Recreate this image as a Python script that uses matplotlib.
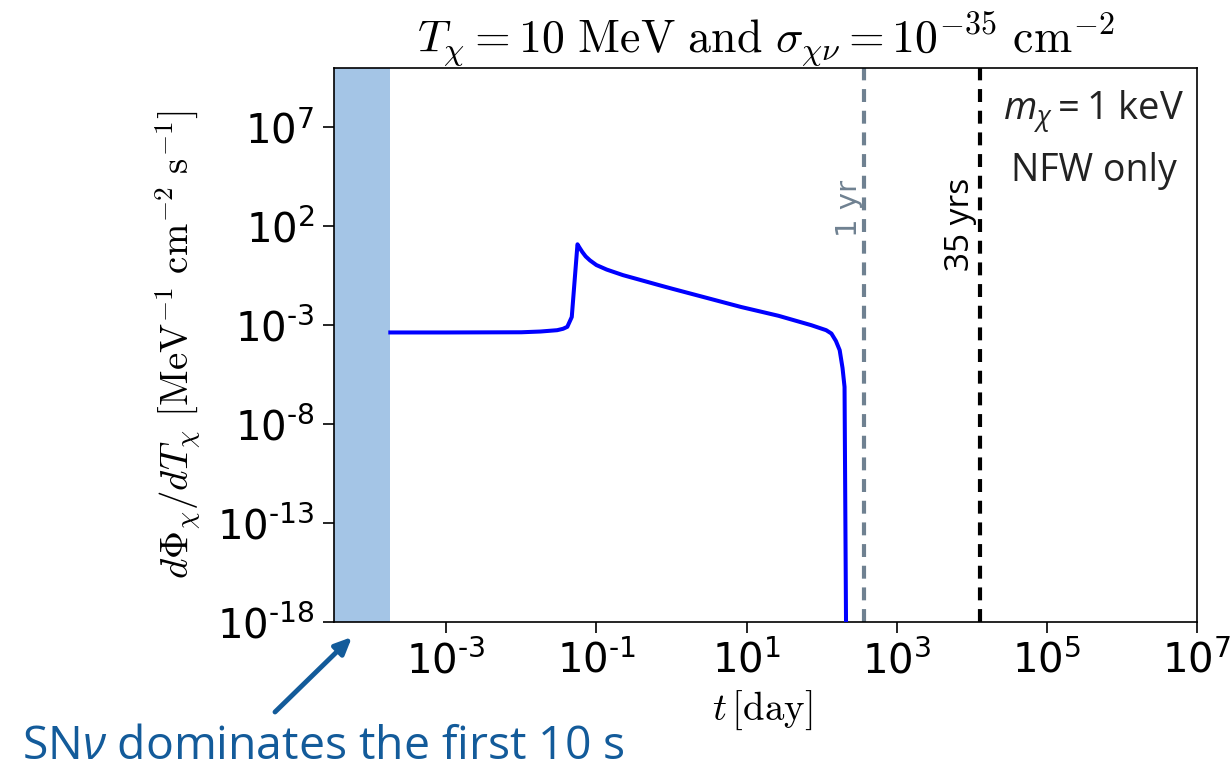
import numpy as np
import matplotlib
matplotlib.use("Agg")
import matplotlib.pyplot as plt
import matplotlib.transforms as mtransforms

plt.rcParams['mathtext.fontset'] = 'cm'
plt.rcParams['mathtext.rm'] = 'Open Sans'
plt.rcParams['mathtext.it'] = 'Open Sans:italic'
plt.rcParams['mathtext.bf'] = 'Open Sans:bold'
plt.rcParams['font.family'] = ['DejaVu Sans']

# ---- data ----
t_day = [1.8e-4, 1e-3, 1e-2, 1.8e-2, 3.0e-2, 3.6e-2, 4.1e-2, 4.7e-2, 5.6e-2,
         6.0e-2, 6.5e-2, 7.2e-2, 8.2e-2, 0.100, 0.137, 0.226, 0.69, 1.05, 8.5,
         26.6, 73, 115, 135, 155, 174, 190, 202, 213]
flux = [4.3e-4, 4.3e-4, 4.4e-4, 4.8e-4, 5.6e-4, 6.6e-4, 8.3e-4, 2.6e-3, 12.3,
        8.0, 5.0, 3.0, 1.9, 1.1, 0.65, 0.34, 0.105, 0.068, 8.3e-3,
        3.0e-3, 1.0e-3, 5.6e-4, 3.8e-4, 1.6e-4, 5.5e-5, 6.8e-6, 7.6e-7, 1e-20]

sn_end_day = 1.8e-4
one_yr_day = 365.0
yrs35_day = 35 * 365.25

xticks = [1e-3, 1e-1, 1e1, 1e3, 1e5, 1e7]
xticklabels = [r'$\mathregular{10^{\text{-}3}}$', r'$\mathregular{10^{\text{-}1}}$',
               r'$\mathregular{10^{1}}$', r'$\mathregular{10^{3}}$',
               r'$\mathregular{10^{5}}$', r'$\mathregular{10^{7}}$']
yticks = [1e7, 1e2, 1e-3, 1e-8, 1e-13, 1e-18]
yticklabels = [r'$\mathregular{10^{7}}$', r'$\mathregular{10^{2}}$',
               r'$\mathregular{10^{\text{-}3}}$', r'$\mathregular{10^{\text{-}8}}$',
               r'$\mathregular{10^{\text{-}13}}$', r'$\mathregular{10^{\text{-}18}}$']

W, H = 1232, 770
fig = plt.figure(figsize=(W / 100, H / 100), dpi=100)
ax = fig.add_axes([334 / W, 1 - 622 / H, (1197 - 334) / W, (622 - 68) / H])

xlo = 3.2e-5
ax.axvspan(xlo, sn_end_day, color='#a4c5e6', lw=0, zorder=1)
ax.plot(t_day, flux, color='#0000ff', lw=2.9, zorder=3, solid_joinstyle='round')
ax.axvline(one_yr_day, color='#6f8191', ls=(0, (3.1, 2.1)), lw=3.0, zorder=2)
ax.axvline(yrs35_day, color='black', ls=(0, (3.1, 2.1)), lw=3.0, zorder=2)

ax.set_xscale('log')
ax.set_yscale('log')
ax.set_xlim(xlo, 1e7)
ax.set_ylim(1e-18, 1e10)
ax.minorticks_off()
ax.set_xticks(xticks)
ax.set_xticklabels(xticklabels)
ax.set_yticks(yticks)
ax.set_yticklabels(yticklabels)
for lab in ax.get_xticklabels() + ax.get_yticklabels():
    lab.set_math_fontfamily('dejavusans')
ax.tick_params(axis='both', which='major', labelsize=29, length=8, width=1.2, pad=6)
for s in ax.spines.values():
    s.set_linewidth(1.2)

# labels
ax.set_xlabel(r'$t\,[\mathrm{day}]$', fontsize=28)
ax.xaxis.set_label_coords(0.496, -0.12)
ax.set_ylabel(r'$d\Phi_\chi/dT_\chi\ [\mathrm{MeV}^{-1}\ \mathrm{cm}^{-2}\ \mathrm{s}^{-1}]$',
              fontsize=28)
ax.yaxis.set_label_coords(-0.152, 0.5)
ax.set_title(r'$T_\chi = 10\ \mathrm{MeV\ and}\ \sigma_{\chi\nu} = 10^{-35}\ \mathrm{cm}^{-2}$',
             fontsize=33, pad=7)

# in-plot texts
bt = mtransforms.blended_transform_factory(ax.transData, ax.transAxes)
ax.text(one_yr_day / 1.03, 0.747, '1 yr', rotation=90, color='#6f8191', fontsize=21,
        ha='right', va='center', transform=bt)
ax.text(yrs35_day / 1.10, 0.717, '35 yrs', rotation=90, color='black', fontsize=24,
        family='Open Sans', ha='right', va='center', transform=bt)
ax.text(0.88, 0.922, r'$m_\chi = 1$ keV', transform=ax.transAxes, fontsize=27.5,
        family='Open Sans', color='#222222', ha='center', va='center',
        math_fontfamily='custom')
ax.text(0.881, 0.814, 'NFW only', transform=ax.transAxes, fontsize=27,
        family='Open Sans', color='#222222', ha='center', va='center')

# annotation
blue = '#135b9a'
fig.text(22 / W, 1 - 759 / H, r'SN$\nu$ dominates the first 10 s', fontsize=33.3,
         family='Open Sans', color=blue, ha='left', va='baseline',
         math_fontfamily='custom')
ax.annotate('', xy=(352 / W, 1 - 637 / H), xycoords='figure fraction',
            xytext=(275 / W, 1 - 712 / H), textcoords='figure fraction',
            arrowprops=dict(arrowstyle='-|>,head_length=1.0,head_width=0.45',
                            color=blue, lw=3.5, shrinkA=0, shrinkB=0),
            annotation_clip=False)

fig.savefig('out.png', dpi=100)
